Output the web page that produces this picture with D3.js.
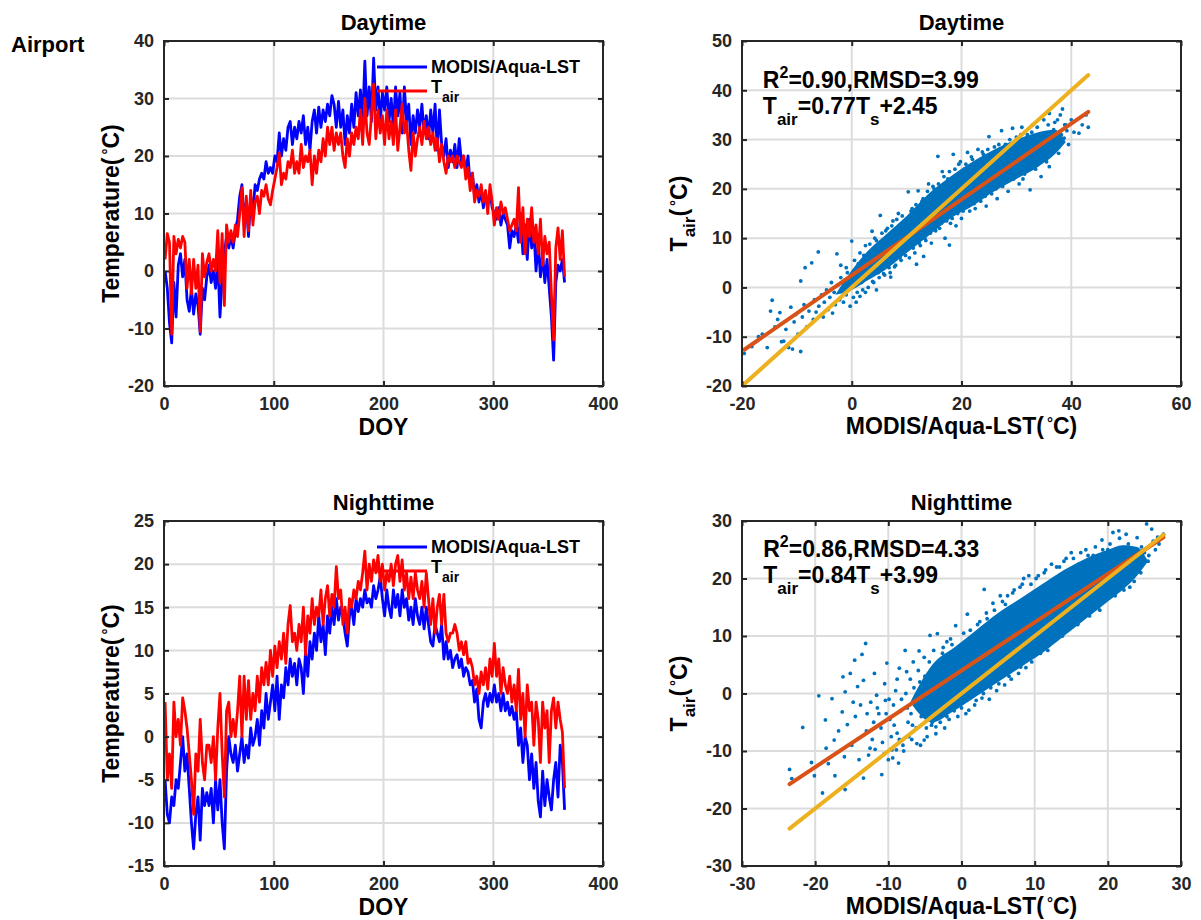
<!DOCTYPE html>
<html>
<head>
<meta charset="utf-8">
<script src="https://cdn.jsdelivr.net/npm/d3@7"></script>
<style>
  body { margin: 0; background: #fff; }
  svg { display: block; }
  text { font-family: "Liberation Sans", Arial, Helvetica, sans-serif; font-weight: bold; }
</style>
</head>
<body>
<svg id="fig" width="1201" height="920"></svg>
<script>
// ---------- data ----------
// Day of year sampled every second day (1, 3, ..., 365)
const doy = d3.range(1, 366, 2);

// Daytime MODIS/Aqua LST (°C)
const dayLST = [
  0, -3, -9, -12.5, -2, -8, 1, 3, -1, 2,
  -5, -7, -3, -7.5, -4, -6, -11, -3, -5, -1,
  1, -2, 0, -3, 2, -8, -1, 3, 6, 4,
  6, 4, 7, 9, 13, 15, 9, 12, 6, 13,
  10, 15, 14, 16, 17, 16, 19, 17, 18, 17,
  20, 19, 24, 20, 23, 21, 25, 26, 22, 25,
  23, 26, 24, 27, 22, 25, 21, 26, 28, 24,
  28.5, 25, 28, 26, 29, 27, 30.5, 29, 25, 29.5,
  25, 28, 22, 27, 24, 29, 25, 31, 27, 31.5,
  26, 36.5, 27, 32, 26, 37, 28, 32, 26, 31,
  28, 32, 26, 30, 25, 32, 27, 31, 24, 32,
  26, 29, 22, 27, 24, 28, 25, 29, 24, 27,
  23, 28, 24, 29, 21, 28, 22, 20, 23, 18,
  21, 19, 22, 18, 23, 19, 20, 17, 20, 15,
  17, 13, 15, 12, 14, 11, 13, 12, 14, 11,
  10, 9, 11, 8, 10, 9, 8, 4, 7, 6,
  8, 5, 10, 3, 8, 2, 9, 4, 7, 0,
  5, -1, 3, -2, 2, -3, -8, -15.5, -2, 1,
  0, 2, -2
];
// Daytime air temperature (°C)
const dayTair = [
  2, 6.5, 5, -11, 6, 3, 5.5, 4, 6, 5,
  -3, 2, -4, 2, -3, 1, -10.5, 3, -1, 1.5,
  3, 0, 2, 0, 7, -2, 6.5, -6, 8, 5,
  7, 5, 8, 6, 10, 14.5, 6, 13, 7, 14,
  8, 12, 13, 10, 14, 13, 15, 12.5, 11.5, 14,
  16, 18, 20.5, 15, 17, 16, 19, 18, 21, 17,
  19, 17, 22, 18, 20, 19, 21, 15, 20, 17,
  21, 19, 23, 20, 25, 22, 25, 21, 24, 22,
  24, 20, 18, 23, 20, 24, 22, 25, 23, 28,
  22, 30, 24, 22, 27, 32.5, 23, 28, 24, 27,
  22, 28, 23, 26, 22, 28, 21, 25, 29, 24,
  26, 21, 17.5, 24, 20, 23, 25, 22, 26, 23,
  25, 22, 24, 21, 23, 19, 22, 19, 17, 20,
  19, 20, 18, 20, 19, 18, 20, 16, 18, 14,
  17, 12, 14, 13, 15, 12, 14, 10, 15, 12,
  8, 11, 9, 12, 10, 11, 9, 7, 8, 9,
  7, 14.5, 5, 11, 3, 9, 6, 11, 5, 8,
  3, 9, 1, 6, 3, 5, -4, -12, 4, 7.5,
  2, 7, -1
];
// Nighttime MODIS/Aqua LST (°C)
const nightLST = [
  -5, -9, -10, -7, -8, -5, -6, -3, 0, -4,
  -2, -6, -10, -13, -9, -7, -12, -6, -8, -6.5,
  -8, -6, -10, -5, -8.5, -5, -10, -13, -4, 0,
  -2, -3, -1, -4, -2, 0, -3, -1, -2.5, 1,
  -1, 0, 2, -1, 3, 1, 5, 2, 4, 6,
  3, 7, 2, 6, 4.5, 8, 6, 9, 7, 8.5,
  6, 9, 8, 5, 10, 7, 11, 9, 12, 10,
  14, 11, 13, 9.5, 14, 12, 15, 13, 16, 13.5,
  15, 14, 12, 10.5, 14, 15, 13, 16, 14.5, 16,
  15, 17, 15.5, 16, 15, 17.5, 16, 17, 18.5, 16,
  14, 17, 15, 13.8, 17, 15, 16.5, 14, 17, 15,
  16, 13.5, 15, 13, 16, 14, 13, 15, 12.5, 15,
  13, 11, 10.5, 13, 12, 11, 13, 9, 11, 9,
  10, 8, 9, 9.5, 8, 9, 7, 8, 7.5, 6,
  6.5, 4, 5.5, 2, 1, 4, 5, 3.5, 5, 4,
  6, 4, 5, 3, 5, 3, 4, 2.5, 3.5, 2,
  3, -1, 1, -3, 0, -1, -5, -2, -6, -3,
  -7.5, -9.3, -4, -8, -5, -7, -8.5, -5, -3, -7,
  -1, -3, -8.5
];
// Nighttime air temperature (°C)
const nightTair = [
  4, -5, -2, -6, 4, 0, 2, -1, 4.5, 3,
  1, -2, -5, -9, -2, -4, 2, -3, -5, -1,
  -1, -3, 0, -5, 1, 5, -2, -7, 3, 4,
  0, 2, 0, 3, 7, 0, 7, 2, 6.5, 2,
  5, 3, 7, 4, 8, 6, 8.6, 6, 10, 7,
  10.5, 8, 11, 9, 12, 8.5, 13, 15.2, 11, 12,
  10, 13, 11, 15, 9.5, 14, 12, 16, 13, 15,
  14, 17, 13, 16, 17.5, 14, 16.5, 15, 19.7, 16,
  17, 13, 15, 12, 16, 15, 17, 16, 18, 17,
  19, 21.5, 17, 20, 18, 20.5, 19, 21, 18, 20,
  17, 19, 18, 20, 17.5, 20, 21, 18, 20.5, 17,
  19, 16, 18.5, 16, 19, 17, 16, 18, 15, 19,
  16, 13, 16, 12, 15, 16.5, 13, 16.5, 12, 11,
  12, 12, 13, 12, 10, 11, 9.5, 11, 8.5, 9,
  8, 6, 7, 5, 7.5, 6, 8, 5.5, 9, 7,
  10.8, 7, 9, 5, 8, 6, 5, 7, 4, 6,
  3, 7.8, 2, 5, 0, 6, 3, 4, -1, 4,
  2, -3, 4, 1, 3, -3, 3, 4.5, 1, 4,
  2, 0.5, -6
];

// Daytime scatter: dense core envelope (LST, lower Tair, upper Tair)
const dayCoreX  = [-3, 0, 3, 6, 10, 14, 18, 22, 26, 30, 34, 37, 39];
const dayCoreLo = [-1.5, -0.5, 1.5, 3.5, 7, 10.5, 14, 16.5, 19.5, 22, 24.5, 27, 29.5];
const dayCoreHi = [-1.5, 3.5, 7.5, 10.5, 14.5, 19, 22.5, 25.5, 28, 30, 31.5, 32, 29.5];
// Daytime scatter: individual points [LST, Tair]
const dayPoints = [
  [-19.6,-13.4],[-18.2,-12],[-17,-10],[-16.3,-9.5],[-15.4,-12.2],[-14.8,-4.8],[-14.5,-2.6],[-14,-8],
  [-13.5,-6.5],[-13.1,-5.1],[-12.8,-11],[-12.4,-10.9],[-12,-8.5],[-11.5,-12.2],[-11.1,-4],[-10.8,-12.5],
  [-10.5,-7],[-10.2,-5.5],[-9.8,-9.5],[-9.3,1.3],[-9.3,-13],[-9,-6],[-8.7,-3.5],[-8.5,4],[-8.2,-8],
  [-7.8,-4.8],[-7.3,5],[-7,-6.5],[-6.8,-2.5],[-6.5,-5],[-6.1,7.2],[-6,-3.8],[-5.5,-1.5],[-5.2,-6],
  [-5,-3],[-4.6,-0.5],[-4.3,-4.5],[-4,-2],[-3.7,1],[-3.5,-5.2],[-3.2,-1],[-3,-3.5],[-2.7,6.8],
  [-2.5,0.5],[-2.2,-2.5],[-2,2],[-1.8,-0.5],[-1.5,-3],[-1.2,1.5],[-1,-1.5],[-0.8,3],[-0.5,0],
  [-0.3,-3.8],[0,9.4],[0.3,-2],[0.5,2],[0.5,5.5],[1,-1],[1.5,7],[2,-0.5],[2.5,8.5],[3,0],
  [3.7,11.4],[4,1],[4.5,9.5],[5,2],[5.2,14.6],[5.5,11],[6,2.5],[6.5,12],[7,3],[7.1,2.1],
  [7.5,13.5],[8,4.5],[8.5,15],[9,5.5],[9.5,13],[10.3,19.4],[10.5,6],[11,16],[11.5,7],[11.8,4.7],
  [12.1,19.6],[12.5,8.5],[13,18],[13.1,6.3],[13.5,9.5],[14,21],[14.5,9],[15,20],[15.7,26.6],
  [16,12],[16.5,23.5],[17,10],[17.5,22],[17.8,8.6],[18,13],[18.5,27],[19,12.5],[19.5,25],
  [20,14],[20.5,24],[21.1,27.4],[21.5,15.5],[22,26],[22.5,16],[23,28],[23.5,17.5],[24,27],
  [24.5,16.5],[25,30.6],[25.5,19],[26,28.5],[26.5,18],[27.3,31.8],[27.5,20.5],[28,29],
  [28.5,19.5],[29.3,32.3],[29.5,22],[30,30.5],[30.5,21],[31,32.5],[31.5,23],[32,31],
  [32.5,19.8],[33,33],[33.5,24],[34,30],[34.5,22.5],[35,34],[35.5,25.5],[36,35.3],[36,24.5],
  [36.5,31],[37,33.5],[37.7,27.2],[38,35],[38.4,36.2],[38.7,30.3],[39,33],[39.5,29],[40,34],
  [40.5,31.5],[41.4,31.3],[42,33],[42.7,35],[43.1,32.5],
  [1.2,4.8],[1.8,1],[2.2,6.5],[2.8,2],[3.3,8.8],[3.8,1.2],[4.2,10],[4.8,3],[5.5,9],[5.8,2.8],
  [6.2,11.5],[6.8,4],[7.3,12.5],[7.8,4.2],[8.2,13.8],[8.8,6],[9.2,14.5],[9.8,6.5],[10.8,15.5],
  [11.2,8],[11.7,16.8],[12.3,9],[12.8,17.5],[13.3,10],[13.8,19.5],[14.3,11],[14.8,20.5],
  [15.3,11.5],[15.8,21],[16.3,13],[16.8,22.5],[17.3,13.5],[17.8,23.5],[18.3,14],[18.8,24],
  [19.3,15],[19.8,25.5],[20.3,15.5],[20.8,25],[21.3,16.5],[21.8,26.5],[22.3,17],[22.8,25.5],
  [23.3,18],[23.8,27.5],[24.3,18.5],[24.8,28],[25.3,19.5],[25.8,27],[26.3,20],[26.8,29],
  [27.2,21],[27.8,28.5],[28.2,21.5],[28.8,30],[29.2,22.5],[29.8,29.5],[30.2,23],[30.8,31],
  [31.2,22],[31.8,30],[32.2,24],[32.8,31.5],[33.2,25],[33.8,32.5],[34.2,25.5],[34.8,31],
  [35.2,27],[35.8,33],[36.2,27.5],[36.8,32],[37.2,29],[37.5,34],[38.2,31],[38.8,33],[39.2,31.8],
  [-1,4],[-2,4.5],[0.8,-3],[1.5,-1.8],[2.5,-1],[4.5,-0.5]
];

// Nighttime scatter: dense core envelope
const nightCoreX  = [-7, -4, -1, 2, 5, 8, 11, 14, 17, 20, 22, 24, 25.5];
const nightCoreLo = [-1.5, -5, -3, -0.5, 2, 4.5, 7, 10, 13, 16, 18, 20.5, 23];
const nightCoreHi = [-1.5, 5, 8, 11, 14, 16.5, 19, 21.5, 23.5, 25, 25.8, 25.5, 23];
// Nighttime scatter: individual points [LST, Tair]
const nightPoints = [
  [-23.5,-13.2],[-23.2,-14.8],[-21.7,-5.9],[-20.5,-12],[-20.1,-14.3],[-19.5,-0.4],[-19,-17.3],
  [-18.6,-4.6],[-18.5,-9.5],[-18.2,-12.2],[-17.7,-0.9],[-17.4,-8.1],[-17.3,-14.3],[-16.8,-6.5],
  [-16.3,-3.2],[-16.2,2.9],[-15.9,0.3],[-15.9,-16.7],[-15.6,-5.4],[-15.2,3.5],[-15,-9],[-14.6,5.8],
  [-14.5,-4],[-14.2,1.2],[-14,-11.5],[-13.6,6.8],[-13.4,2.3],[-13.4,-14.7],[-13.1,8.7],[-13,-6.5],
  [-12.9,-3.5],[-12.7,-10.7],[-12.4,-1.5],[-12.2,-8],[-11.9,3.5],[-11.6,-0.3],[-11.3,-3.5],[-11,-6],
  [-10.9,-14.1],[-10.5,1.7],[-10.4,-1.2],[-10.2,5.3],[-10,-11.5],[-9.8,-4.5],[-9.6,-7.5],[-9.3,-2],
  [-9,0.5],[-8.8,-6.9],[-8.6,-12.1],[-8.5,4.4],[-8.3,-3],[-8,-9],[-7.7,7.5],[-7.6,0],[-7.3,-5],
  [-7,2.5],[-6.8,-8],[-6.6,5.5],[-6.3,-2],[-6.1,-8.7],[-5.8,7.4],[-5.5,-4],[-5.1,6.3],[-5.1,-8.1],
  [-4.8,-6],[-4.3,10.1],[-4,-5],[-3.5,-5.8],[-3.3,10.4],[-3,-3.5],[-2.5,8],[-2,-4],[-1.5,9.5],
  [-1,-3],[-0.8,11.8],[0,-2.5],[0.8,13.8],[1,-2.9],[1.5,10],[2,-1.2],[2.5,12.5],[3,0],[3.1,18.1],
  [3.5,13],[4,1],[4.3,15.7],[5,2.5],[5.1,1.7],[5.3,17],[6,15.5],[6.5,3],[7,17.5],[7.5,5],[8,18.5],
  [8.1,4.6],[8.5,20],[9,6],[9.5,19],[9.9,6.9],[10.5,20.5],[11,8],[11.5,21.5],[12,9],[12.6,9.8],
  [13,22],[13.5,10.5],[14,23],[14.5,11],[15,24.5],[15.7,12.7],[16,22.5],[16.5,14],[17,25],
  [17.5,13.5],[18,24],[18.7,15],[19.2,26.7],[19.5,16],[20,25],[20.7,28],[21,17],[21.2,17.9],
  [21.5,28.3],[21.5,21.5],[22,19],[22.5,27.7],[23,18.5],[23.3,20.2],[24,27.1],[24.2,22.8],
  [24.5,21],[25,24.5],[25.3,29.5],[25.5,23],[26,28.6],[26.5,25],[27,26],[27.6,27.7],
  [-9.5,-9.8],[-9.2,-5.5],[-8.8,2.5],[-8.5,-8],[-8.2,-1],[-7.9,-10],[-7.5,3.8],[-7.2,-7.5],
  [-6.9,-3.5],[-6.5,1],[-6.2,-6],[-5.9,4],[-5.6,-9],[-5.3,-2],[-5,3],[-4.7,-7.5],[-4.4,5.5],
  [-4.1,-5.5],[-3.8,7.5],[-3.5,-7],[-3.2,4],[-2.9,-5],[-2.6,7],[-2.3,-6],[-2,9],[-1.7,-4.5],
  [-1.3,8.5],[-0.5,-4],[0.3,10.5],[0.6,-3.5],[1.2,11],[1.8,-2],[2.2,12],[2.8,-0.8],[3.4,14],
  [3.8,-1],[4.5,14.5],[4.8,0.5],[5.6,16],[5.9,1.5],[6.3,17],[6.8,2.5],[7.2,18],[7.8,3.5],
  [8.3,19],[8.8,4.5],[9.2,20.5],[9.6,5.5],[10.2,20],[10.8,7],[11.3,21],[11.8,7.5],[12.3,22.5],
  [12.9,9.5],[13.4,22],[13.8,10],[14.3,23.5],[14.8,11.5],[15.3,23.5],[15.9,12],[16.3,24.5],
  [16.8,13.5],[17.3,24],[17.8,14.5],[18.3,25.5],[18.9,14.5],[19.3,25],[19.8,16.5],[20.3,26],
  [20.6,17.5],[21.6,27],[22.2,18],[22.8,26],[23.6,19.5],[24.6,25.5],[25.6,24],[26.2,26.5],
  [26.8,27.2],
  [-12,-5],[-11.5,-2.5],[-10.8,-8.5],[-10.3,-3.5],[-9.9,-1],[-12.5,-9.5],[-13.8,-2],[-14.8,-1.5],
  [-16,-11],[-11.8,-9.7],[-10.6,-10.5],[-9.4,-11.2],[-8.9,-9.8],
  [-7.4,-2.5],[-6.7,-5.5],[-6,-1],[-5.7,2],[-4.9,-3.5],[-4.5,0],[-4.2,-2],[-3.9,2.5],
  [-3.4,-1.5],[-2.8,1],[-2.4,4],[-1.9,-1.8],[-1.4,6],[-0.9,2]
];

// Regression results shown in the scatter panels
const dayFit   = { r2: "0.90", rmsd: "3.99", slope: 0.77, intercept: 2.45 };
const nightFit = { r2: "0.86", rmsd: "4.33", slope: 0.84, intercept: 3.99 };

// Axis ticks
const doyTicks       = [0, 100, 200, 300, 400];
const dayTempTicks   = [-20, -10, 0, 10, 20, 30, 40];
const nightTempTicks = [-15, -10, -5, 0, 5, 10, 15, 20, 25];
const dayLstTicks    = [-20, 0, 20, 40, 60];
const dayTairTicks   = [-20, -10, 0, 10, 20, 30, 40, 50];
const nightScTicks   = [-30, -20, -10, 0, 10, 20, 30];

// ---------- drawing ----------
const W = 439, H = 345;
const COL_L = 164, COL_R = 742, ROW_T = 41, ROW_B = 521;
const svg = d3.select('#fig');
const fmt = d => String(d);

// text with sub/superscript pieces
function rich(parent, parts, size, attrs) {
  const t = parent.append('text').attr('font-size', size);
  Object.entries(attrs).forEach(([k, v]) => t.attr(k, v));
  let shift = 0;
  parts.forEach(p => {
    const small = p.sub || p.sup;
    const s = p.sub ? p.sub : p.sup ? -p.sup : 0;
    const ts = t.append('tspan').attr('dy', s - shift)
      .attr('font-size', small ? (p.size || size * 0.74) : size).text(p.t);
    if (p.dx) ts.attr('dx', p.dx);
    shift = s;
  });
  return t;
}

function frame(left, top, xDom, yDom, xTicks, yTicks) {
  const g = svg.append('g').attr('transform', `translate(${left},${top})`);
  const x = d3.scaleLinear().domain(xDom).range([0, W]);
  const y = d3.scaleLinear().domain(yDom).range([H, 0]);
  const grid = g.append('g').attr('stroke', '#dcdcdc').attr('stroke-width', 2);
  grid.append('g').selectAll('line').data(xTicks.slice(1, -1)).join('line')
    .attr('x1', d => x(d)).attr('x2', d => x(d)).attr('y1', 0).attr('y2', H);
  grid.append('g').selectAll('line').data(yTicks.slice(1, -1)).join('line')
    .attr('x1', 0).attr('x2', W).attr('y1', d => y(d)).attr('y2', d => y(d));
  const plot = g.append('g');
  return { g, x, y, plot, xTicks, yTicks };
}

function finishAxes(p) {
  const style = sel => {
    sel.select('.domain').remove();
    sel.selectAll('line').attr('stroke', '#262626').attr('stroke-width', 2);
    sel.selectAll('text').attr('font-size', 18).attr('fill', '#262626')
      .attr('font-family', '"Liberation Sans", Arial, sans-serif');
    sel.attr('font-size', null).attr('font-family', null);
  };
  p.g.append('g').attr('transform', `translate(0,${H})`)
    .call(d3.axisBottom(p.x).tickValues(p.xTicks).tickSize(-5).tickPadding(11).tickFormat(fmt)).call(style);
  p.g.append('g')
    .call(d3.axisLeft(p.y).tickValues(p.yTicks).tickSize(-5).tickPadding(10).tickFormat(fmt)).call(style);
  p.g.append('g')
    .call(d3.axisTop(p.x).tickValues(p.xTicks).tickSize(-5).tickFormat('')).call(style);
  p.g.append('g').attr('transform', `translate(${W},0)`)
    .call(d3.axisRight(p.y).tickValues(p.yTicks).tickSize(-5).tickFormat('')).call(style);
  p.g.append('rect').attr('width', W).attr('height', H)
    .attr('fill', 'none').attr('stroke', '#262626').attr('stroke-width', 2);
}

function seriesPanel(left, top, title, yDom, yTicks, lst, tair) {
  const p = frame(left, top, [0, 400], yDom, doyTicks, yTicks);
  const line = vals => d3.line().x((d, i) => p.x(doy[i])).y(d => p.y(d))(vals);
  p.plot.append('path').attr('d', line(lst)).attr('fill', 'none')
    .attr('stroke', '#0000ff').attr('stroke-width', 2.8).attr('stroke-linejoin', 'round');
  p.plot.append('path').attr('d', line(tair)).attr('fill', 'none')
    .attr('stroke', '#ff0000').attr('stroke-width', 2.8).attr('stroke-linejoin', 'round');
  finishAxes(p);
  // legend
  const lg = p.g.append('g');
  lg.append('line').attr('x1', 213).attr('x2', 263).attr('y1', 26).attr('y2', 26)
    .attr('stroke', '#0000ff').attr('stroke-width', 3);
  lg.append('line').attr('x1', 213).attr('x2', 263).attr('y1', 50).attr('y2', 50)
    .attr('stroke', '#ff0000').attr('stroke-width', 3);
  lg.append('text').attr('x', 267).attr('y', 32).attr('font-size', 18).text('MODIS/Aqua-LST');
  rich(lg, [{ t: 'T' }, { t: 'air', sub: 9, size: 14 }], 18, { x: 267, y: 52 });
  // title & labels
  p.g.append('text').attr('x', W / 2).attr('y', -11).attr('text-anchor', 'middle')
    .attr('font-size', 22).text(title);
  p.g.append('text').attr('x', W / 2).attr('y', H + 49).attr('text-anchor', 'middle')
    .attr('font-size', 23).text('DOY');
  rich(p.g, [{ t: 'Temperature(' }, { t: '°', sup: 6, size: 15, dx: 3 }, { t: 'C)' }], 23,
    { 'text-anchor': 'middle', transform: `translate(${119 - left},${H / 2}) rotate(-90)` });
  return p;
}

function scatterPanel(left, top, title, dom, xTicks, yTicks, core, pts, fit, note) {
  const p = frame(left, top, dom[0], dom[1], xTicks, yTicks);
  const band = core.x.map((v, i) => ({ x: v, lo: core.lo[i], hi: core.hi[i] }));
  p.plot.append('path')
    .attr('d', d3.area().curve(d3.curveMonotoneX).x(d => p.x(d.x)).y0(d => p.y(d.lo)).y1(d => p.y(d.hi))(band))
    .attr('fill', '#0072bd');
  p.plot.append('g').selectAll('circle').data(pts).join('circle')
    .attr('cx', d => p.x(d[0])).attr('cy', d => p.y(d[1])).attr('r', 1.9).attr('fill', '#0072bd');
  const ext = d3.extent(pts, d => d[0]);
  p.plot.append('line')
    .attr('x1', p.x(ext[0])).attr('y1', p.y(fit.slope * ext[0] + fit.intercept))
    .attr('x2', p.x(ext[1])).attr('y2', p.y(fit.slope * ext[1] + fit.intercept))
    .attr('stroke', '#d95319').attr('stroke-width', 4).attr('stroke-linecap', 'round');
  p.plot.append('line')
    .attr('x1', p.x(ext[0])).attr('y1', p.y(ext[0]))
    .attr('x2', p.x(ext[1])).attr('y2', p.y(ext[1]))
    .attr('stroke', '#edb120').attr('stroke-width', 4).attr('stroke-linecap', 'round');
  finishAxes(p);
  // statistics
  rich(p.g, [{ t: 'R' }, { t: '2', sup: 10, size: 16 }, { t: `=${fit.r2},RMSD=${fit.rmsd}` }], 23,
    { x: p.x(note[0]), y: p.y(note[1]) });
  rich(p.g, [{ t: 'T' }, { t: 'air', sub: 11, size: 17 }, { t: `=${fit.slope.toFixed(2)}T` },
             { t: 's', sub: 11, size: 17 }, { t: `+${fit.intercept.toFixed(2)}` }], 23,
    { x: p.x(note[0]), y: p.y(note[1]) + 26 });
  // title & labels
  p.g.append('text').attr('x', W / 2).attr('y', -11).attr('text-anchor', 'middle')
    .attr('font-size', 22).text(title);
  rich(p.g, [{ t: 'MODIS/Aqua-LST(' }, { t: '°', sup: 6, size: 15, dx: 3 }, { t: 'C)' }], 23,
    { x: W / 2, y: H + 48, 'text-anchor': 'middle' });
  rich(p.g, [{ t: 'T' }, { t: 'air', sub: 8, size: 17 }, { t: '(' }, { t: '°', sup: 6, size: 15, dx: 3 }, { t: 'C)' }], 23,
    { 'text-anchor': 'middle', transform: `translate(${687 - left},${H / 2}) rotate(-90)` });
  return p;
}

seriesPanel(COL_L, ROW_T, 'Daytime', [-20, 40], dayTempTicks, dayLST, dayTair);
seriesPanel(COL_L, ROW_B, 'Nighttime', [-15, 25], nightTempTicks, nightLST, nightTair);

scatterPanel(COL_R, ROW_T, 'Daytime', [[-20, 60], [-20, 50]], dayLstTicks, dayTairTicks,
  { x: dayCoreX, lo: dayCoreLo, hi: dayCoreHi }, dayPoints, dayFit, [-16.2, 40.5]);
scatterPanel(COL_R, ROW_B, 'Nighttime', [[-30, 30], [-30, 30]], nightScTicks, nightScTicks,
  { x: nightCoreX, lo: nightCoreLo, hi: nightCoreHi }, nightPoints, nightFit, [-27.1, 23.8]);

svg.append('text').attr('x', 11).attr('y', 52).attr('font-size', 22).text('Airport');
</script>
</body>
</html>
